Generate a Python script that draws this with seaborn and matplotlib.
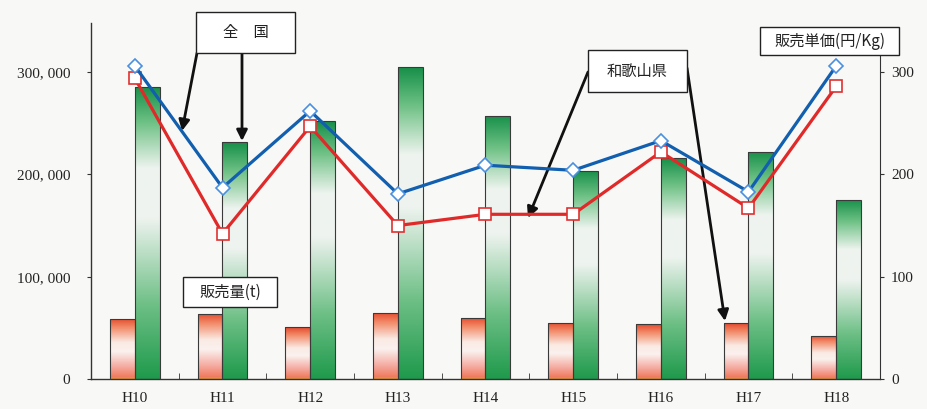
import numpy as np
import pandas as pd
import matplotlib
matplotlib.use("Agg")
import matplotlib.pyplot as plt
import seaborn as sns
from matplotlib.colors import LinearSegmentedColormap
from matplotlib.patches import Rectangle

# ---------------- data ----------------
years = ["H10", "H11", "H12", "H13", "H14", "H15", "H16", "H17", "H18"]
wakayama_volume = [59000, 64000, 50500, 65000, 60000, 55000, 53500, 54500, 42500]
national_volume = [285500, 231500, 252000, 304500, 257500, 203500, 216000, 222000, 175000]
national_price = [306, 187, 262, 181, 209, 204, 233, 183, 306]
wakayama_price = [294, 142, 247, 150, 161, 161, 222, 167, 286]
left_ticks = [0, 100000, 200000, 300000]
left_tick_labels = ["0", "100, 000", "200, 000", "300, 000"]
right_ticks = [0, 100, 200, 300]
right_tick_labels = ["0", "100", "200", "300"]

BG = "#f8f8f6"
W, H = 928, 409

sns.set_style("white")
plt.rcParams["font.family"] = ["Liberation Serif", "Noto Sans CJK JP"]
JP = ["Noto Sans CJK JP", "DejaVu Sans"]

fig = plt.figure(figsize=(W / 100, H / 100), dpi=100, facecolor=BG)
ax = fig.add_axes([91 / W, 1 - 379 / H, (880 - 91) / W, (379 - 23) / H])
ax.set_facecolor(BG)

df = pd.DataFrame({
    "year": years * 2,
    "region": ["和歌山県"] * len(years) + ["全国"] * len(years),
    "volume": wakayama_volume + national_volume,
})
sns.barplot(data=df, x="year", y="volume", hue="region",
            hue_order=["和歌山県", "全国"], width=0.57, gap=0,
            errorbar=None, legend=False, ax=ax,
            edgecolor="#3a3a3a", linewidth=0.8)

ax.set_xlim(-0.5, 8.5)
ax.set_ylim(0, 348000)

orange_cmap = LinearSegmentedColormap.from_list("o", [
    (0.0, "#f0a030"), (0.03, "#f07a5e"), (0.2, "#f5aaa0"), (0.45, "#fbf1ee"),
    (0.6, "#faeae4"), (0.85, "#f28a68"), (1.0, "#e4492c")])
green_cmap = LinearSegmentedColormap.from_list("g", [
    (0.0, "#1f9a4c"), (0.25, "#6dbf85"), (0.55, "#eef3ef"), (0.72, "#eef4ef"),
    (0.88, "#6cc083"), (1.0, "#17904a")])
grad = np.linspace(0, 1, 256).reshape(-1, 1)

for p in list(ax.patches):
    x0, y0 = p.get_x(), p.get_y()
    w, h = p.get_width(), p.get_height()
    cx = x0 + w / 2
    left = cx < round(cx)
    cmap = orange_cmap if left else green_cmap
    im = ax.imshow(grad, extent=[x0, x0 + w, y0, y0 + h], origin="lower",
                   aspect="auto", cmap=cmap, zorder=2, interpolation="bilinear")
    im.set_clip_path(p)
    p.set_facecolor("none")
    p.set_zorder(3)

ax.set_xlim(-0.5, 8.5)
ax.set_ylim(0, 348000)
ax.set_xlabel("")
ax.set_ylabel("")

ax.set_yticks(left_ticks, left_tick_labels)
ax.tick_params(axis="y", length=3, direction="out", pad=12, labelsize=11,
               left=True, color="#333333", labelcolor="#222222")
ax.set_xticks(range(len(years)), years)
ax.tick_params(axis="x", which="major", length=0, pad=9, labelsize=11,
               labelcolor="#222222")
ax.set_xticks(np.arange(0.5, len(years) - 1, 1), minor=True)
ax.tick_params(axis="x", which="minor", direction="in", length=4,
               bottom=True, color="#333333")
for s in ["top", "right"]:
    ax.spines[s].set_visible(False)
for s in ["left", "bottom"]:
    ax.spines[s].set_color("#333333")
    ax.spines[s].set_linewidth(1.0)

ax2 = ax.twinx()
xpos = np.arange(len(years))
sns.lineplot(x=xpos, y=wakayama_price, ax=ax2, color="#e02a2a", linewidth=2.3,
             marker="s", markersize=9, markerfacecolor="white",
             markeredgecolor="#e03030", markeredgewidth=1.2, zorder=5)
sns.lineplot(x=xpos, y=national_price, ax=ax2, color="#115fae", linewidth=2.3,
             marker="D", markersize=7.5, markerfacecolor="white",
             markeredgecolor="#4a90e0", markeredgewidth=1.2, zorder=6)
ax2.set_ylim(0, 348)
ax2.set_xlim(-0.5, 8.5)
ax2.set_yticks(right_ticks, right_tick_labels)
ax2.tick_params(axis="y", length=3, direction="out", pad=5, labelsize=11,
                right=True, color="#333333", labelcolor="#222222")
ax2.set_ylabel("")
ax2.grid(False)
for s in ["top", "left", "bottom"]:
    ax2.spines[s].set_visible(False)
ax2.spines["right"].set_bounds(0, 318)
ax2.spines["right"].set_color("#333333")


def fpx(x, y):
    return (x / W, 1 - y / H)


def box(x0, y0, x1, y1, text, size=11, weight="normal"):
    r = Rectangle(fpx(x0, y1), (x1 - x0) / W, (y1 - y0) / H,
                  transform=fig.transFigure, facecolor="white",
                  edgecolor="#222222", linewidth=1.0, zorder=10)
    fig.add_artist(r)
    cx, cy = fpx((x0 + x1) / 2, (y0 + y1) / 2)
    fig.text(cx, cy, text, ha="center", va="center", fontsize=size,
             family=JP, zorder=11, weight=weight, color="#222222")


def arrow(xs, ys, xt, yt):
    ax.annotate("", xy=fpx(xt, yt), xycoords="figure fraction",
                xytext=fpx(xs, ys), textcoords="figure fraction",
                arrowprops=dict(arrowstyle="-|>", color="#111111", lw=2.0,
                                mutation_scale=16, shrinkA=0, shrinkB=0),
                zorder=12, annotation_clip=False)


box(196, 12, 295, 53, "全　国", size=11)
box(588, 50, 687, 92, "和歌山県", size=11)
box(183, 277, 277, 307, "販売量(t)", size=11)
box(760, 27, 899, 55, "販売単価(円/Kg)", size=11)

arrow(197, 53, 182, 131)
arrow(242, 53, 242, 141)
arrow(588, 72, 528, 218)
arrow(687, 68, 725, 321)

fig.savefig("out.png", dpi=100, facecolor=BG)
